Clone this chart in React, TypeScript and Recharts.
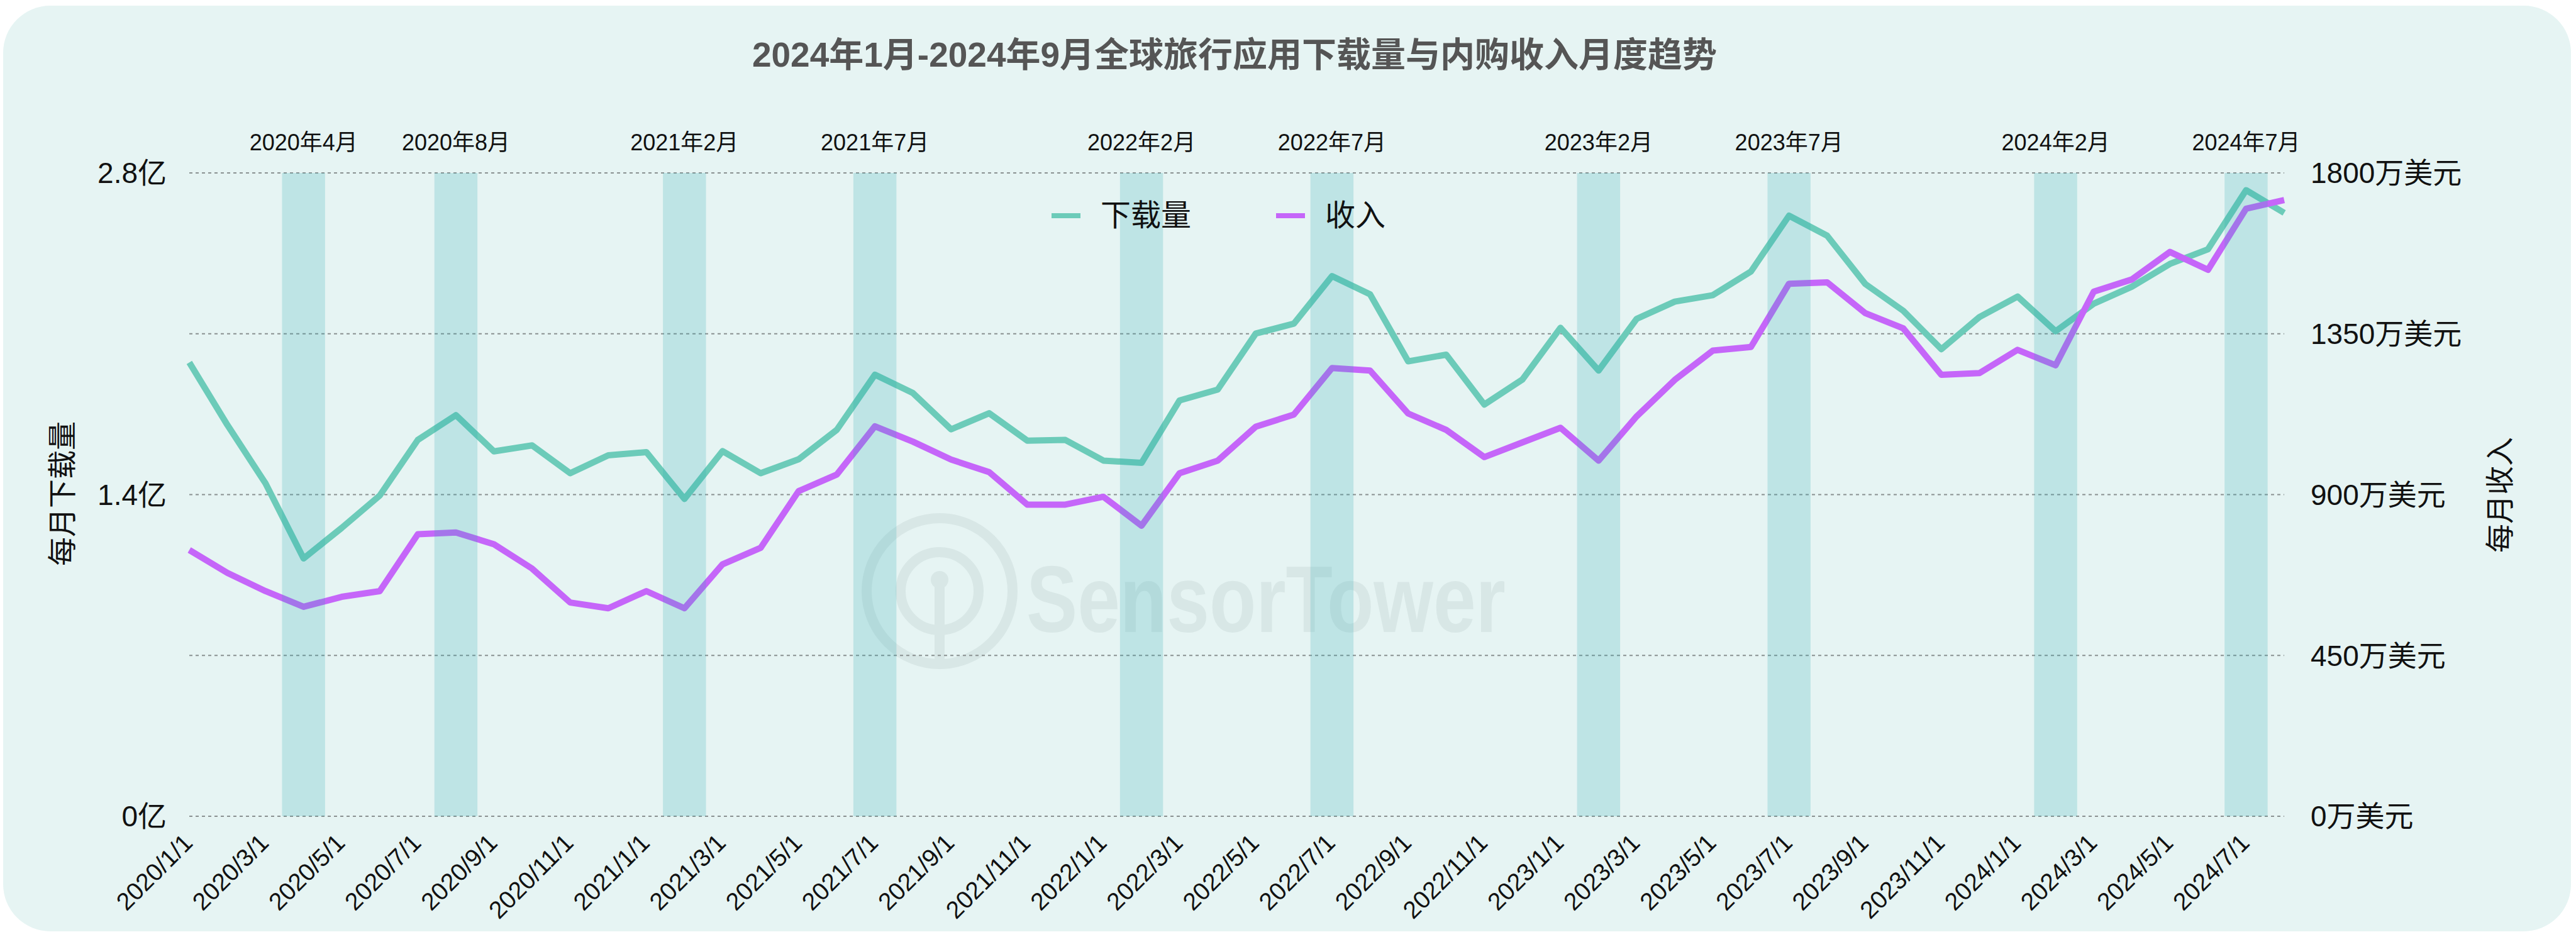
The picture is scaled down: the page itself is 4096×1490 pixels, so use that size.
import React from 'react';
import { LineChart, Line, XAxis, YAxis, CartesianGrid, ReferenceArea, Legend } from 'recharts';

// months on the x axis (2020/1 .. 2024/8)
const months = [
  '2020/1/1', '2020/2/1', '2020/3/1', '2020/4/1', '2020/5/1', '2020/6/1',
  '2020/7/1', '2020/8/1', '2020/9/1', '2020/10/1', '2020/11/1', '2020/12/1',
  '2021/1/1', '2021/2/1', '2021/3/1', '2021/4/1', '2021/5/1', '2021/6/1',
  '2021/7/1', '2021/8/1', '2021/9/1', '2021/10/1', '2021/11/1', '2021/12/1',
  '2022/1/1', '2022/2/1', '2022/3/1', '2022/4/1', '2022/5/1', '2022/6/1',
  '2022/7/1', '2022/8/1', '2022/9/1', '2022/10/1', '2022/11/1', '2022/12/1',
  '2023/1/1', '2023/2/1', '2023/3/1', '2023/4/1', '2023/5/1', '2023/6/1',
  '2023/7/1', '2023/8/1', '2023/9/1', '2023/10/1', '2023/11/1', '2023/12/1',
  '2024/1/1', '2024/2/1', '2024/3/1', '2024/4/1', '2024/5/1', '2024/6/1',
  '2024/7/1', '2024/8/1',
];

// monthly downloads, in 亿
const downloads = [
  1.975, 1.703, 1.449, 1.122, 1.255, 1.396, 1.638, 1.746, 1.588, 1.614, 1.493, 1.571,
  1.585, 1.381, 1.589, 1.493, 1.554, 1.682, 1.922, 1.842, 1.684, 1.754, 1.635, 1.638,
  1.548, 1.538, 1.810, 1.857, 2.101, 2.144, 2.351, 2.272, 1.980, 2.009, 1.792, 1.901,
  2.126, 1.940, 2.165, 2.240, 2.268, 2.371, 2.614, 2.527, 2.317, 2.200, 2.033, 2.173,
  2.262, 2.111, 2.231, 2.305, 2.404, 2.468, 2.725, 2.626,
];

// monthly revenue, in 万美元
const revenue = [
  745, 681, 630, 586, 614, 630, 789, 794, 761, 693, 598, 582,
  630, 582, 705, 751, 910, 956, 1091, 1048, 998, 963, 872, 872,
  894, 813, 960, 995, 1090, 1124, 1254, 1247, 1127, 1081, 1005, 1046,
  1087, 995, 1119, 1221, 1303, 1313, 1490, 1494, 1408, 1365, 1235, 1240,
  1305, 1262, 1468, 1502, 1579, 1529, 1700, 1724,
];

// highlighted months
const highlights = [
  { label: '2020年4月', month: '2020/4/1' },
  { label: '2020年8月', month: '2020/8/1' },
  { label: '2021年2月', month: '2021/2/1' },
  { label: '2021年7月', month: '2021/7/1' },
  { label: '2022年2月', month: '2022/2/1' },
  { label: '2022年7月', month: '2022/7/1' },
  { label: '2023年2月', month: '2023/2/1' },
  { label: '2023年7月', month: '2023/7/1' },
  { label: '2024年2月', month: '2024/2/1' },
  { label: '2024年7月', month: '2024/7/1' },
];

const leftTicks = [0, 0.7, 1.4, 2.1, 2.8];
const leftTickLabels = ['0亿', '', '1.4亿', '', '2.8亿'];
const rightTicks = [0, 450, 900, 1350, 1800];
const rightTickLabels = ['0万美元', '450万美元', '900万美元', '1350万美元', '1800万美元'];

const data = months.map((m, i) => ({ idx: i, month: m, downloads: downloads[i], revenue: revenue[i] }));
const xTicks = months.map((_, i) => i).filter((i) => i % 2 === 0);

const FONT = "'Liberation Sans', Arial, 'Noto Sans CJK SC', sans-serif";
const GREEN = '#6CCBB9';
const PURPLE = '#C566F9';

const XTick = (props: any) => {
  const { x, y, payload } = props;
  const ax = x - 2;
  return (
    <text
      x={ax}
      y={y}
      transform={`rotate(-45 ${ax} ${y})`}
      textAnchor="end"
      dominantBaseline="central"
      fontSize={39}
      fill="#111"
    >
      {months[payload.value]}
    </text>
  );
};

const renderLegend = (props: any) => (
  <div style={{ display: 'flex', alignItems: 'center', fontFamily: FONT }}>
    {(props.payload || []).map((entry: any, i: number) => (
      <div key={i} style={{ display: 'flex', alignItems: 'center', marginRight: i === 0 ? 135 : 0 }}>
        <span style={{ display: 'inline-block', width: 46, height: 8, background: entry.color, marginRight: 32 }} />
        <span style={{ fontSize: 48, lineHeight: '58px', color: '#111' }}>{entry.value}</span>
      </div>
    ))}
  </div>
);

const App: React.FC = () => {
  return (
    <div style={{ position: 'absolute', left: 0, top: 0, width: 4096, height: 1490, background: '#fff', fontFamily: FONT }}>
      <div style={{ position: 'absolute', left: 5, top: 9, width: 4083, height: 1472, borderRadius: 75, background: '#E6F4F3' }} />
      <svg width={4096} height={1490} style={{ position: 'absolute', left: 0, top: 0 }}>
        <text x={1963} y={87} textAnchor="middle" dominantBaseline="central" fontSize={55} fontWeight="bold" fill="#555">
          2024年1月-2024年9月全球旅行应用下载量与内购收入月度趋势
        </text>
        <text x={99} y={785} transform="rotate(-90 99 785)" textAnchor="middle" dominantBaseline="central" fontSize={46} fill="#111">
          每月下载量
        </text>
        <text x={3975} y={787} transform="rotate(-90 3975 787)" textAnchor="middle" dominantBaseline="central" fontSize={46} fill="#111">
          每月收入
        </text>
        {/* faint watermark */}
        <g fill="none" stroke="#D8E7E6" strokeWidth={16}>
          <circle cx={1494} cy={940} r={116} />
          <circle cx={1494} cy={940} r={62} />
          <line x1={1494} y1={925} x2={1494} y2={1060} />
        </g>
        <circle cx={1494} cy={922} r={14} fill="#D8E7E6" />
        <text x={1632} y={1005} fontSize={150} fontWeight="bold" fill="#D8E7E6" textLength={762} lengthAdjust="spacingAndGlyphs">
          SensorTower
        </text>
      </svg>
      <div style={{ position: 'absolute', left: 0, top: 0 }}>
        <LineChart width={4096} height={1490} data={data} margin={{ top: 275, right: 164, bottom: 42, left: 101 }}>
          <CartesianGrid yAxisId="left" vertical={false} stroke="#8A9191" strokeWidth={2} strokeDasharray="5 5" />
          <XAxis
            dataKey="idx"
            type="number"
            domain={[0, 55]}
            ticks={xTicks}
            interval={0}
            height={150}
            axisLine={false}
            tickLine={false}
            tickSize={0}
            tickMargin={35}
            tick={<XTick />}
          />
          <YAxis
            yAxisId="left"
            orientation="left"
            width={200}
            domain={[0, 2.8]}
            ticks={leftTicks}
            interval={0}
            axisLine={false}
            tickLine={false}
            tickSize={0}
            tickMargin={36}
            tick={{ fontSize: 46, fill: '#111' }}
            tickFormatter={(v: number) => leftTickLabels[leftTicks.indexOf(v)] ?? ''}
          />
          <YAxis
            yAxisId="right"
            orientation="right"
            width={300}
            domain={[0, 1800]}
            ticks={rightTicks}
            interval={0}
            axisLine={false}
            tickLine={false}
            tickSize={0}
            tickMargin={42}
            tick={{ fontSize: 46, fill: '#111' }}
            tickFormatter={(v: number) => rightTickLabels[rightTicks.indexOf(v)] ?? ''}
          />
          <Legend
            layout="horizontal"
            verticalAlign="middle"
            align="center"
            content={renderLegend}
            wrapperStyle={{ left: 1672, top: 314, width: 'auto' }}
          />
          <Line
            yAxisId="left"
            type="linear"
            dataKey="downloads"
            name="下载量"
            stroke={GREEN}
            strokeWidth={10}
            strokeLinejoin="round"
            dot={false}
            activeDot={false}
            isAnimationActive={false}
          />
          <Line
            yAxisId="right"
            type="linear"
            dataKey="revenue"
            name="收入"
            stroke={PURPLE}
            strokeWidth={10}
            strokeLinejoin="round"
            dot={false}
            activeDot={false}
            isAnimationActive={false}
          />
          {highlights.map((h) => {
            const i = months.indexOf(h.month);
            return (
              <ReferenceArea
                key={h.label}
                yAxisId="left"
                x1={i - 0.565}
                x2={i + 0.565}
                y1={0}
                y2={2.8}
                fill="rgb(44,172,181)"
                fillOpacity={0.21}
                stroke="none"
                ifOverflow="visible"
                zIndex={450}
                label={{ value: h.label, position: 'top', offset: 36, fontSize: 36, fill: '#111' }}
              />
            );
          })}
        </LineChart>
      </div>
    </div>
  );
};

export default App;
